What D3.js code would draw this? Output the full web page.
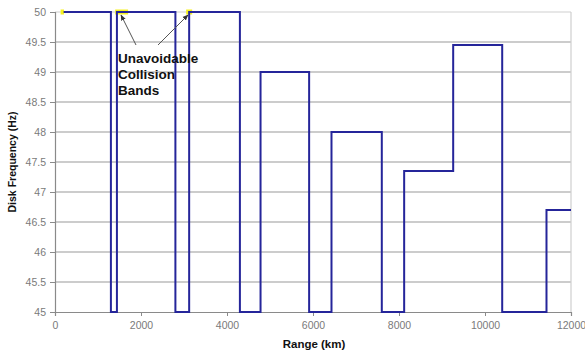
<!DOCTYPE html>
<html>
<head>
<meta charset="utf-8">
<script src="https://cdn.jsdelivr.net/npm/d3@7"></script>
<style>
  html, body { margin: 0; padding: 0; background: #fff; }
  svg { display: block; font-family: "Liberation Sans", Arial, sans-serif; }
</style>
</head>
<body>
<svg id="chart" width="585" height="356"></svg>
<script>
// Step profile: disk frequency held from each range breakpoint to the next
const rangeKm = [200, 1300, 1440, 2800, 3120, 4300, 4780, 5910, 6430, 7600, 8120, 9260, 10400, 11430, 12000];
const diskHz  = [50, 45, 50, 45, 50, 45, 49, 45, 48, 45, 47.35, 49.45, 45, 46.7, 46.7];

// Range bands (km) where collisions cannot be avoided
const collisionStart = [130, 1400, 3050];
const collisionEnd   = [210, 1700, 3190];

const xTicks = [0, 2000, 4000, 6000, 8000, 10000, 12000];
const yTicks = [45, 45.5, 46, 46.5, 47, 47.5, 48, 48.5, 49, 49.5, 50];

const annotationLines = ["Unavoidable", "Collision", "Bands"];

const svg = d3.select("#chart");
const m = { left: 55, right: 14, top: 12, bottom: 44 };
const W = 585, H = 356;

const x = d3.scaleLinear().domain([0, 12000]).range([m.left, W - m.right]);
const y = d3.scaleLinear().domain([45, 50]).range([H - m.bottom, m.top]);

// Horizontal gridlines
svg.append("g").selectAll("line").data(yTicks.filter(t => t > 45)).join("line")
  .attr("x1", x(0)).attr("x2", x(12000))
  .attr("y1", d => y(d)).attr("y2", d => y(d))
  .attr("stroke", d => d === 50 ? "#cfcfcf" : "#9a9a9a")
  .attr("stroke-width", 1.2);

// Right border of plot area
svg.append("line")
  .attr("x1", x(12000)).attr("x2", x(12000))
  .attr("y1", y(50)).attr("y2", y(45))
  .attr("stroke", "#cfcfcf").attr("stroke-width", 1.2);

// Y axis
const yAxis = d3.axisLeft(y).tickValues(yTicks).tickSize(5).tickPadding(4)
  .tickFormat(d => String(d));
const gy = svg.append("g").attr("transform", `translate(${x(0)},0)`).call(yAxis);
gy.select(".domain").attr("stroke", "#8a8a8a").attr("stroke-width", 1.2);
gy.selectAll(".tick line").attr("stroke", "#8a8a8a");
gy.selectAll(".tick text").attr("fill", "#7a7a7a").attr("font-size", 10.5)
  .attr("font-family", "Liberation Sans, Arial, sans-serif");

// X axis
const xAxis = d3.axisBottom(x).tickValues(xTicks).tickSize(4).tickPadding(6)
  .tickFormat(d3.format("d"));
const gx = svg.append("g").attr("transform", `translate(0,${y(45)})`).call(xAxis);
gx.select(".domain").attr("stroke", "#8a8a8a").attr("stroke-width", 1.2);
gx.selectAll(".tick line").attr("stroke", "#8a8a8a");
gx.selectAll(".tick text").attr("fill", "#7a7a7a").attr("font-size", 10.5)
  .attr("font-family", "Liberation Sans, Arial, sans-serif");

// Collision bands (yellow) along the top
svg.append("g").selectAll("line").data(collisionStart.map((s, i) => [s, collisionEnd[i]])).join("line")
  .attr("x1", d => x(d[0])).attr("x2", d => x(d[1]))
  .attr("y1", y(50)).attr("y2", y(50))
  .attr("stroke", "#f5f020").attr("stroke-width", 5);

// Frequency step line
const pts = rangeKm.map((r, i) => [r, diskHz[i]]);
const line = d3.line().x(d => x(d[0])).y(d => y(d[1])).curve(d3.curveStepAfter);
svg.append("path").datum(pts)
  .attr("d", line)
  .attr("fill", "none")
  .attr("stroke", "#25259a")
  .attr("stroke-width", 2)
  .attr("stroke-linejoin", "miter");

// Annotation arrows
const arrows = [
  { from: [136, 45], to: [121, 15] },
  { from: [158, 45], to: [188, 15] }
];
svg.append("defs").append("marker")
  .attr("id", "ah").attr("viewBox", "0 0 10 10").attr("refX", 9).attr("refY", 5)
  .attr("markerWidth", 6).attr("markerHeight", 6).attr("orient", "auto")
  .append("path").attr("d", "M0,1 L10,5 L0,9 z").attr("fill", "#333");
svg.append("g").selectAll("line").data(arrows).join("line")
  .attr("x1", d => d.from[0]).attr("y1", d => d.from[1])
  .attr("x2", d => d.to[0]).attr("y2", d => d.to[1])
  .attr("stroke", "#555").attr("stroke-width", 1)
  .attr("marker-end", "url(#ah)");

svg.append("g").selectAll("text").data(annotationLines).join("text")
  .attr("x", 118).attr("y", (d, i) => 63 + i * 16)
  .attr("font-size", 13.5).attr("font-weight", "bold").attr("fill", "#111")
  .text(d => d);

// Axis titles
svg.append("text")
  .attr("x", (x(0) + x(12000)) / 2 + 1).attr("y", 348)
  .attr("text-anchor", "middle").attr("font-size", 11.5).attr("font-weight", "bold").attr("fill", "#111")
  .text("Range (km)");

svg.append("text")
  .attr("transform", `translate(16,${(y(45) + y(50)) / 2}) rotate(-90)`)
  .attr("text-anchor", "middle").attr("font-size", 10.5).attr("font-weight", "bold").attr("fill", "#111")
  .text("Disk Frequency (Hz)");
</script>
</body>
</html>
